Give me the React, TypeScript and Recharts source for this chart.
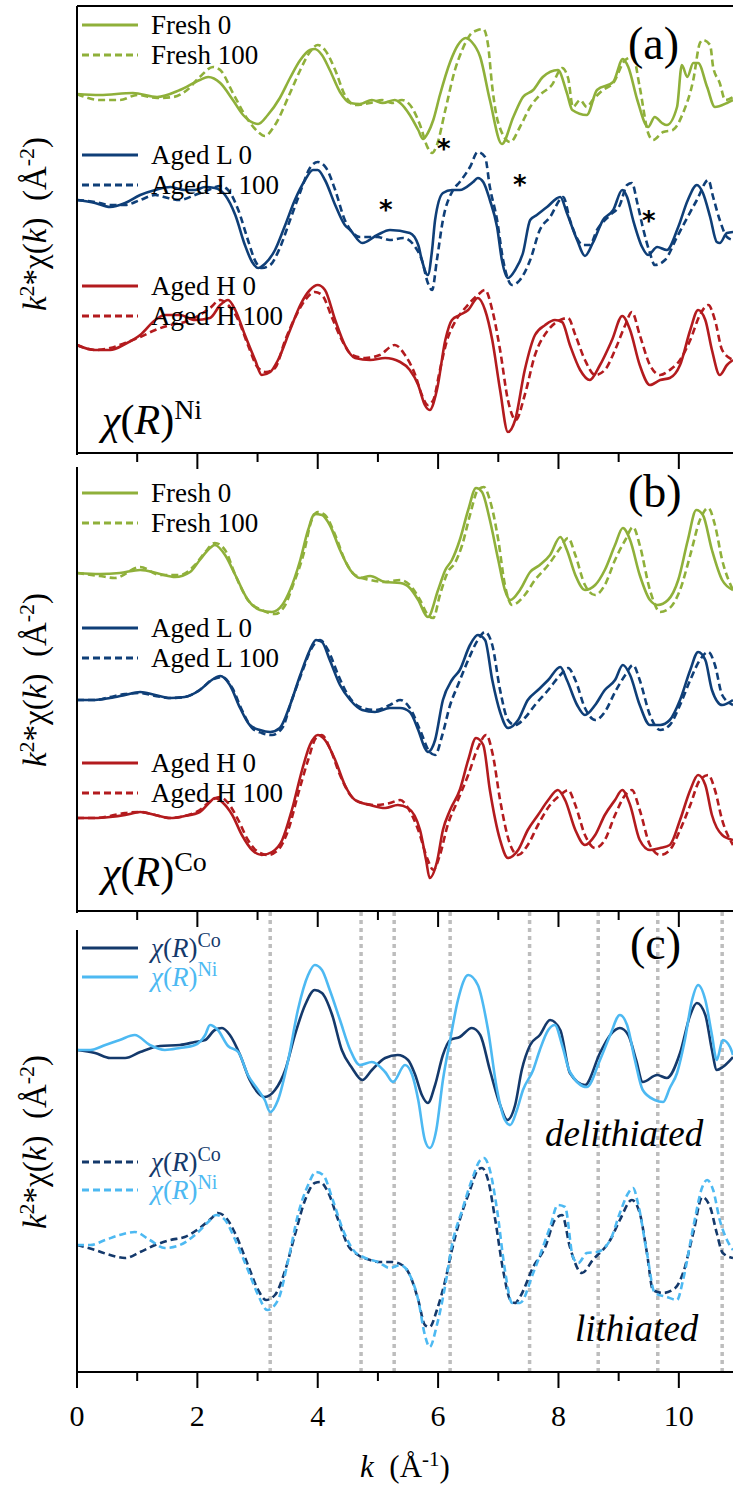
import React from 'react';
import { LineChart, Line, XAxis, YAxis, ReferenceLine } from 'recharts';

type P = [number, number];

// ---------- axis / guide data ----------
const K_MAX = 10.9;
const K_TICKS = [0, 1, 2, 3, 4, 5, 6, 7, 8, 9, 10];
const K_LABELS = [0, 2, 4, 6, 8, 10];
const GUIDE_K = [3.21, 4.72, 5.27, 6.2, 7.52, 8.66, 9.65, 10.72];

// ---------- panel (a): chi(R)^Ni, [k, k2chi] ----------
const A_FRESH_0: P[] = [[0,0],[0.38,-0.1],[0.93,0.1],[1.33,-0.3],[1.71,0.4],[2.04,1.4],[2.18,1.7],[2.38,1.1],[2.59,-0.6],[2.76,-2.1],[2.87,-2.7],[3.01,-3.0],[3.17,-2.1],[3.37,-0.4],[3.54,1.6],[3.71,3.4],[3.87,4.4],[3.95,4.5],[4.07,3.9],[4.2,2.4],[4.37,0.2],[4.54,-0.9],[4.7,-1.0],[4.9,-0.6],[5.08,-0.9],[5.28,-0.6],[5.37,-0.9],[5.53,-2.1],[5.67,-3.6],[5.75,-4.5],[5.83,-3.9],[5.92,-2.6],[6.03,-0.1],[6.2,3.2],[6.33,4.9],[6.46,5.6],[6.56,5.2],[6.7,3.7],[6.86,-0.6],[7.06,-5.0],[7.25,-2.3],[7.41,-0.3],[7.58,0.4],[7.74,1.7],[7.99,2.4],[8.14,0.1],[8.23,-1.6],[8.47,-2.1],[8.64,0.4],[8.91,1.2],[9.07,3.5],[9.16,2.7],[9.31,-0.6],[9.49,-3.3],[9.6,-2.3],[9.72,-2.9],[9.8,-3.1],[9.97,-1.3],[10.05,2.9],[10.14,1.7],[10.24,3.1],[10.32,3.1],[10.47,0.7],[10.6,-1.3],[10.8,-0.9],[10.9,-0.6]];
const A_FRESH_100: P[] = [[0,0],[0.38,-0.6],[0.71,-0.6],[1.0,-0.1],[1.33,-0.4],[1.6,-0.3],[1.83,0.4],[2.04,1.7],[2.26,2.7],[2.38,2.4],[2.59,0.1],[2.82,-2.4],[3.01,-3.8],[3.12,-4.2],[3.29,-3.1],[3.54,0.1],[3.71,2.4],[3.87,4.2],[4.0,4.9],[4.12,4.4],[4.29,2.4],[4.45,-0.1],[4.62,-1.1],[4.87,-0.9],[5.07,-0.6],[5.23,-0.9],[5.4,-0.6],[5.57,-1.4],[5.7,-3.1],[5.83,-5.4],[5.9,-5.9],[5.98,-5.1],[6.12,-1.6],[6.28,2.4],[6.4,4.4],[6.53,5.9],[6.66,6.4],[6.75,6.5],[6.83,4.9],[6.9,0.7],[7.0,-2.9],[7.2,-4.8],[7.36,-3.3],[7.53,-1.3],[7.69,-0.1],[7.89,0.9],[8.06,2.6],[8.16,1.6],[8.24,-1.3],[8.36,-0.6],[8.47,-1.3],[8.57,-0.6],[8.74,0.4],[8.91,1.1],[9.11,3.4],[9.24,3.7],[9.35,0.7],[9.49,-3.9],[9.57,-4.6],[9.74,-3.8],[9.9,-3.6],[10.07,-1.9],[10.24,1.4],[10.35,5.1],[10.4,5.4],[10.52,4.9],[10.57,2.7],[10.68,1.1],[10.77,-0.6],[10.9,-0.3]];
const A_AGEDL_0: P[] = [[0,0],[0.3,-0.3],[0.55,-0.7],[0.8,-0.3],[1.05,0.5],[1.3,1.0],[1.55,1.3],[1.79,1.0],[1.96,1.0],[2.13,1.3],[2.29,1.2],[2.46,0.5],[2.63,-1.5],[2.79,-4.5],[2.91,-6.2],[3.01,-6.8],[3.12,-6.4],[3.29,-5.0],[3.46,-2.5],[3.62,0],[3.79,2.0],[3.92,3.0],[4.0,3.0],[4.12,2.0],[4.29,-0.5],[4.45,-2.5],[4.54,-3.0],[4.74,-4.3],[4.99,-3.5],[5.2,-3.0],[5.53,-3.3],[5.67,-4.5],[5.73,-6.0],[5.83,-7.5],[5.9,-5.0],[5.95,-2.0],[6.08,0.7],[6.23,1.0],[6.36,1.0],[6.58,1.8],[6.66,2.2],[6.75,1.8],[6.86,0],[6.98,-2.7],[7.06,-6.0],[7.16,-7.8],[7.28,-7.0],[7.41,-5.3],[7.53,-2.0],[7.64,-1.5],[7.81,-0.7],[8.03,0.3],[8.14,-1.3],[8.31,-4.0],[8.44,-5.6],[8.57,-4.3],[8.74,-2.0],[8.91,-1.0],[9.06,1.0],[9.14,0.3],[9.24,-2.0],[9.39,-4.7],[9.49,-5.5],[9.64,-4.7],[9.8,-5.0],[9.99,-2.7],[10.15,0],[10.3,1.5],[10.4,0.7],[10.52,-1.7],[10.63,-4.2],[10.68,-4.3],[10.8,-3.3],[10.9,-3.2]];
const A_AGEDL_100: P[] = [[0,0],[0.3,-0.2],[0.55,-0.5],[0.8,-0.5],[1.05,0],[1.3,0.5],[1.51,0.2],[1.71,0],[1.96,0.5],[2.18,1.0],[2.38,1.4],[2.51,1.0],[2.68,-1.0],[2.84,-4.0],[2.97,-6.2],[3.07,-6.8],[3.21,-6.5],[3.37,-4.8],[3.54,-2.0],[3.71,0.8],[3.87,3.2],[4.0,3.8],[4.14,3.2],[4.29,1.0],[4.45,-2.0],[4.57,-3.2],[4.7,-3.7],[4.99,-3.7],[5.2,-4.0],[5.42,-3.8],[5.62,-4.7],[5.73,-6.0],[5.83,-8.3],[5.9,-9.0],[5.98,-6.0],[6.08,-2.0],[6.25,1.0],[6.36,1.8],[6.53,3.3],[6.66,4.8],[6.78,4.3],[6.86,1.3],[6.98,-2.0],[7.08,-6.0],[7.23,-8.5],[7.36,-8.0],[7.53,-6.0],[7.69,-3.0],[7.86,-1.7],[8.08,0.3],[8.19,-2.0],[8.41,-4.5],[8.52,-4.5],[8.64,-3.0],[8.86,-1.5],[9.02,-0.5],[9.14,1.5],[9.22,1.7],[9.31,-0.3],[9.4,-2.7],[9.52,-5.3],[9.6,-6.5],[9.77,-6.0],[9.97,-3.7],[10.3,0],[10.49,2.0],[10.57,0.3],[10.68,-2.0],[10.8,-3.7],[10.9,-4.0]];
const A_AGEDH_0: P[] = [[0,0],[0.3,-0.5],[0.55,-0.5],[0.8,0.1],[1.05,1.0],[1.3,2.5],[1.46,3.0],[1.71,3.0],[1.96,2.5],[2.21,2.7],[2.38,4.0],[2.51,4.5],[2.63,3.5],[2.79,1.0],[2.96,-1.5],[3.07,-3.0],[3.21,-2.7],[3.34,-1.5],[3.54,1.5],[3.71,4.0],[3.87,5.5],[4.0,6.0],[4.12,5.5],[4.29,2.5],[4.45,0],[4.62,-1.3],[4.87,-1.5],[5.12,-1.3],[5.37,-1.7],[5.53,-2.5],[5.67,-4.0],[5.78,-6.0],[5.86,-6.5],[5.98,-4.5],[6.12,0.5],[6.23,2.5],[6.36,3.0],[6.5,3.5],[6.66,4.7],[6.78,3.5],[6.9,0.5],[7.03,-4.5],[7.16,-8.7],[7.28,-7.5],[7.44,-2.5],[7.61,1.0],[7.78,2.0],[7.94,2.5],[8.06,2.3],[8.19,0],[8.36,-2.5],[8.52,-3.5],[8.69,-2.0],[8.89,0.5],[9.06,2.9],[9.19,1.5],[9.35,-2.0],[9.52,-4.0],[9.69,-3.5],[9.85,-3.3],[10.02,-2.0],[10.19,1.5],[10.32,3.5],[10.44,2.5],[10.55,-0.5],[10.68,-3.0],[10.8,-2.0],[10.9,-1.5]];
const A_AGEDH_100: P[] = [[0,0],[0.3,-0.5],[0.55,-0.3],[0.8,0.2],[1.05,0.8],[1.3,1.5],[1.55,2.0],[1.79,2.3],[2.04,3.0],[2.21,3.7],[2.38,4.5],[2.51,4.0],[2.68,2.5],[2.84,0],[3.01,-2.3],[3.14,-2.7],[3.29,-2.3],[3.46,0.5],[3.62,2.7],[3.79,4.5],[3.95,5.3],[4.07,5.0],[4.24,2.7],[4.4,0.5],[4.57,-1.0],[4.79,-1.3],[5.03,-1.0],[5.28,0],[5.45,-1.0],[5.62,-3.0],[5.73,-5.0],[5.83,-6.0],[5.92,-5.5],[6.03,-2.5],[6.15,0.5],[6.28,2.3],[6.45,3.7],[6.66,5.0],[6.78,5.5],[6.9,3.5],[7.03,-0.5],[7.16,-5.5],[7.29,-7.5],[7.44,-5.0],[7.61,-1.0],[7.83,1.5],[8.03,2.5],[8.16,2.7],[8.28,1.0],[8.44,-1.5],[8.61,-3.0],[8.77,-2.5],[8.94,-0.5],[9.11,2.0],[9.22,3.3],[9.35,1.0],[9.52,-2.0],[9.69,-3.0],[9.85,-2.5],[10.02,-1.5],[10.19,0.5],[10.35,3.0],[10.49,4.0],[10.6,2.5],[10.72,-0.5],[10.9,-1.5]];

// ---------- panel (b): chi(R)^Co ----------
const B_FRESH_0: P[] = [[0,0],[0.38,-0.1],[0.71,0],[1.05,0.3],[1.38,-0.1],[1.63,-0.4],[1.88,0.1],[2.04,1.3],[2.21,2.5],[2.29,2.8],[2.46,1.8],[2.63,-0.2],[2.84,-2.7],[3.04,-3.7],[3.24,-3.9],[3.41,-3.2],[3.54,-1.7],[3.71,1.3],[3.84,4.3],[3.95,5.9],[4.07,5.8],[4.2,4.8],[4.37,2.3],[4.54,0.3],[4.7,-0.5],[4.87,-0.3],[5.12,-0.9],[5.37,-1.0],[5.53,-1.5],[5.67,-2.7],[5.83,-4.4],[6.0,-1.7],[6.12,0.3],[6.23,1.3],[6.36,3.3],[6.5,6.3],[6.63,8.5],[6.73,8.1],[6.86,5.3],[7.0,1.3],[7.11,-1.7],[7.2,-2.7],[7.36,-1.7],[7.53,0.1],[7.69,0.8],[7.86,1.8],[8.03,3.6],[8.14,2.3],[8.28,-0.2],[8.44,-1.7],[8.61,-1.2],[8.77,0.3],[8.94,2.8],[9.07,4.5],[9.19,3.3],[9.35,-0.2],[9.52,-2.7],[9.65,-3.2],[9.82,-2.7],[9.99,-0.7],[10.15,3.3],[10.29,6.3],[10.4,5.8],[10.55,2.3],[10.72,-0.7],[10.9,-1.7]];
const B_FRESH_100: P[] = [[0,0],[0.38,-0.3],[0.63,-0.5],[1.05,0.6],[1.38,-0.2],[1.71,-0.2],[1.96,0.8],[2.13,2.1],[2.29,3.0],[2.46,2.3],[2.63,-0.2],[2.84,-2.7],[3.07,-3.7],[3.29,-4.1],[3.46,-3.2],[3.59,-1.2],[3.76,1.8],[3.9,5.3],[4.0,6.1],[4.12,5.8],[4.29,3.8],[4.45,1.3],[4.62,-0.2],[4.87,-0.7],[5.12,-0.9],[5.37,-0.7],[5.53,-1.2],[5.7,-2.7],[5.83,-4.2],[5.92,-4.5],[6.03,-2.2],[6.16,0.1],[6.28,1.0],[6.4,2.8],[6.53,5.8],[6.66,8.3],[6.76,8.6],[6.86,7.3],[7.0,3.3],[7.11,-1.2],[7.23,-3.2],[7.44,-2.2],[7.61,-0.7],[7.83,0.8],[8.03,2.5],[8.16,3.5],[8.28,1.8],[8.44,-1.2],[8.61,-2.2],[8.77,-1.2],[8.94,1.3],[9.11,3.3],[9.24,4.6],[9.35,2.8],[9.52,-1.7],[9.69,-3.9],[9.85,-3.5],[10.02,-1.7],[10.19,1.8],[10.35,5.3],[10.49,6.5],[10.6,4.8],[10.72,1.3],[10.9,-1.7]];
const B_AGEDL_0: P[] = [[0,0],[0.3,0],[0.55,0.2],[0.8,0.5],[1.05,0.8],[1.3,0.5],[1.55,0.2],[1.79,0.3],[2.04,1.0],[2.24,2.0],[2.38,2.4],[2.54,1.5],[2.71,-0.8],[2.87,-2.5],[3.04,-3.0],[3.21,-3.2],[3.37,-2.8],[3.54,-0.5],[3.71,2.5],[3.87,5.0],[3.97,6.0],[4.07,5.8],[4.2,4.0],[4.37,1.5],[4.54,0],[4.74,-1.0],[4.95,-1.2],[5.2,-0.8],[5.37,-0.8],[5.53,-1.2],[5.67,-3.0],[5.78,-4.8],[5.83,-5.2],[5.95,-4.0],[6.08,0],[6.23,2.0],[6.36,3.0],[6.53,5.5],[6.66,6.5],[6.78,6.0],[6.9,2.0],[7.03,-1.2],[7.16,-2.8],[7.33,-2.0],[7.49,0],[7.66,1.0],[7.83,2.0],[8.03,3.3],[8.14,2.0],[8.31,-0.5],[8.44,-1.5],[8.61,-0.5],[8.77,1.0],[8.94,2.0],[9.07,3.5],[9.19,2.5],[9.35,-0.5],[9.52,-2.5],[9.69,-2.5],[9.85,-2.0],[10.02,0],[10.19,3.0],[10.32,4.8],[10.44,4.0],[10.55,1.0],[10.72,-0.5],[10.9,0]];
const B_AGEDL_100: P[] = [[0,0],[0.3,0],[0.55,0.3],[0.8,0.6],[1.05,0.7],[1.3,0.4],[1.55,0.2],[1.79,0.3],[2.04,1.0],[2.24,2.0],[2.41,2.3],[2.58,1.2],[2.74,-1.0],[2.91,-2.8],[3.07,-3.3],[3.24,-3.5],[3.41,-2.8],[3.57,0],[3.74,2.8],[3.9,5.2],[4.04,6.0],[4.17,5.0],[4.34,2.5],[4.5,0.5],[4.7,-0.7],[4.95,-1.0],[5.2,-0.5],[5.37,0],[5.53,-0.8],[5.7,-3.0],[5.86,-5.2],[5.95,-5.5],[6.07,-3.5],[6.2,-0.5],[6.33,1.5],[6.5,4.0],[6.66,6.0],[6.78,6.8],[6.9,5.5],[7.03,1.0],[7.16,-2.0],[7.28,-2.5],[7.44,-1.8],[7.61,-0.5],[7.83,1.0],[8.03,2.5],[8.16,3.2],[8.28,2.0],[8.44,-0.8],[8.61,-2.0],[8.77,-1.2],[8.94,0.8],[9.11,2.5],[9.24,3.5],[9.35,2.0],[9.52,-1.5],[9.69,-3.0],[9.85,-2.5],[10.02,-0.5],[10.19,2.0],[10.35,4.0],[10.49,4.8],[10.6,3.5],[10.72,0.5],[10.9,-0.5]];
const B_AGEDH_0: P[] = [[0,0],[0.3,0],[0.55,0.1],[0.8,0.3],[1.05,0.6],[1.3,0.3],[1.55,0],[1.79,0.2],[2.04,0.6],[2.21,1.6],[2.29,2.0],[2.41,1.6],[2.58,0.3],[2.74,-1.7],[2.91,-3.2],[3.07,-3.7],[3.24,-3.4],[3.41,-2.2],[3.57,0.8],[3.74,4.8],[3.87,7.3],[4.0,8.3],[4.12,7.8],[4.29,5.8],[4.45,3.3],[4.62,1.8],[4.87,1.3],[5.12,1.0],[5.33,1.3],[5.5,1.0],[5.7,-1.2],[5.8,-4.2],[5.86,-6.0],[5.98,-4.4],[6.08,-1.2],[6.2,0.8],[6.36,2.8],[6.5,5.8],[6.63,8.0],[6.75,7.3],[6.86,2.8],[7.03,-2.2],[7.16,-4.0],[7.33,-3.2],[7.49,-1.2],[7.66,0.3],[7.83,1.8],[7.99,2.8],[8.11,1.8],[8.28,-1.2],[8.44,-2.7],[8.61,-1.7],[8.77,0.3],[8.94,1.8],[9.06,2.8],[9.19,1.3],[9.35,-2.2],[9.52,-3.2],[9.69,-3.0],[9.85,-2.7],[10.02,-0.2],[10.19,2.8],[10.32,4.3],[10.44,3.3],[10.55,0.3],[10.72,-1.7],[10.9,-2.2]];
const B_AGEDH_100: P[] = [[0,0],[0.3,0],[0.55,0.2],[0.8,0.5],[1.05,0.6],[1.3,0.3],[1.55,0],[1.79,0.2],[2.04,0.8],[2.24,1.8],[2.38,2.1],[2.51,1.5],[2.68,-0.2],[2.84,-2.2],[3.01,-3.4],[3.17,-3.7],[3.34,-3.2],[3.51,-1.2],[3.67,2.3],[3.84,5.8],[3.97,8.0],[4.07,8.3],[4.2,7.0],[4.37,4.3],[4.54,2.3],[4.74,1.5],[4.95,1.3],[5.2,1.5],[5.37,1.8],[5.5,1.0],[5.67,-1.2],[5.83,-4.2],[5.92,-5.2],[6.03,-3.7],[6.16,-0.7],[6.33,1.8],[6.5,4.3],[6.66,7.0],[6.8,8.3],[6.91,6.3],[7.03,1.8],[7.2,-2.7],[7.33,-3.7],[7.49,-2.7],[7.66,-0.7],[7.86,1.3],[8.03,2.3],[8.16,2.8],[8.28,1.3],[8.44,-1.7],[8.61,-3.0],[8.77,-2.2],[8.94,0.3],[9.11,2.3],[9.22,2.8],[9.35,0.8],[9.52,-2.7],[9.69,-3.7],[9.85,-3.2],[10.02,-1.2],[10.19,1.3],[10.35,3.8],[10.49,4.3],[10.6,2.8],[10.72,-0.2],[10.9,-2.7]];

// ---------- panel (c): Co vs Ni ----------
const C_CO_DELI: P[] = [[0,0],[0.3,-0.3],[0.55,-0.8],[0.8,-0.8],[1.05,-0.2],[1.38,0.4],[1.71,0.5],[1.96,0.8],[2.13,1.0],[2.29,2.0],[2.41,2.2],[2.54,1.5],[2.71,-0.5],[2.87,-3.0],[3.01,-4.3],[3.12,-4.7],[3.29,-4.0],[3.46,-2.0],[3.62,1.5],[3.79,4.5],[3.95,6.0],[4.07,5.7],[4.24,3.5],[4.4,0],[4.57,-1.8],[4.74,-3.0],[4.9,-2.0],[5.12,-0.8],[5.33,-0.5],[5.5,-1.0],[5.62,-2.5],[5.73,-4.5],[5.83,-5.3],[5.95,-3.5],[6.08,-0.5],[6.2,1.0],[6.36,1.3],[6.56,2.2],[6.7,1.5],[6.86,-2.0],[7.03,-5.5],[7.15,-7.0],[7.28,-5.5],[7.39,-2.0],[7.53,0.5],[7.69,1.5],[7.86,3.0],[8.03,2.0],[8.19,-2.3],[8.44,-3.5],[8.69,-0.3],[8.86,1.5],[9.02,2.2],[9.16,1.5],[9.29,-1.0],[9.4,-3.2],[9.64,-2.5],[9.8,-2.8],[10.02,-0.3],[10.19,3.5],[10.3,4.7],[10.44,3.5],[10.55,0],[10.63,-2.0],[10.73,-1.7],[10.9,-0.7]];
const C_NI_DELI: P[] = [[0,0],[0.22,0],[0.47,0.5],[0.71,1.0],[0.96,1.5],[1.21,0.5],[1.46,0],[1.71,0.2],[1.96,0.5],[2.13,1.5],[2.21,2.5],[2.34,2.0],[2.51,0.4],[2.68,-0.2],[2.84,-2.5],[3.01,-4.0],[3.12,-5.0],[3.21,-6.2],[3.34,-5.0],[3.51,-1.0],[3.67,4.0],[3.84,7.5],[3.95,8.5],[4.07,8.0],[4.2,6.0],[4.37,3.0],[4.54,0],[4.7,-1.5],[4.9,-1.2],[5.12,-2.2],[5.25,-3.2],[5.45,-1.5],[5.57,-2.5],[5.67,-5.0],[5.78,-9.0],[5.86,-9.8],[5.97,-8.0],[6.08,-3.0],[6.2,1.0],[6.33,5.0],[6.5,7.5],[6.66,6.5],[6.83,2.0],[6.98,-4.0],[7.11,-7.0],[7.2,-7.5],[7.31,-6.0],[7.41,-4.0],[7.58,-2.0],[7.69,0],[7.83,2.0],[7.94,2.5],[8.06,0.5],[8.19,-2.2],[8.47,-3.7],[8.69,-1.0],[8.86,1.5],[9.02,3.5],[9.14,2.5],[9.27,-1.0],[9.4,-4.0],[9.6,-5.0],[9.74,-5.2],[9.85,-3.8],[9.97,-2.3],[10.1,1.0],[10.22,5.0],[10.32,6.5],[10.44,5.0],[10.55,1.5],[10.63,-1.0],[10.73,1.0],[10.85,0.3],[10.9,-0.5]];
const C_CO_LI: P[] = [[0,0],[0.3,-0.5],[0.55,-1.0],[0.8,-1.3],[1.05,-0.7],[1.3,0],[1.55,0.5],[1.79,0.8],[2.04,1.7],[2.24,2.7],[2.34,3.2],[2.48,2.7],[2.64,1.0],[2.84,-2.0],[3.01,-4.5],[3.14,-5.5],[3.29,-5.0],[3.46,-2.5],[3.62,1.0],[3.79,4.5],[3.95,6.2],[4.04,6.3],[4.17,5.3],[4.34,2.5],[4.5,0],[4.67,-1.0],[4.87,-1.5],[5.03,-1.7],[5.23,-1.7],[5.4,-2.0],[5.53,-3.0],[5.67,-5.5],[5.78,-8.0],[5.86,-8.2],[5.98,-6.5],[6.12,-3.5],[6.23,-0.5],[6.36,2.5],[6.53,5.5],[6.66,7.5],[6.73,7.7],[6.83,6.5],[6.95,2.5],[7.08,-2.5],[7.2,-5.5],[7.28,-5.8],[7.36,-5.2],[7.58,-2.2],[7.78,-0.2],[7.94,2.5],[8.06,3.0],[8.19,-0.2],[8.39,-2.8],[8.57,-1.5],[8.86,0.5],[9.02,2.5],[9.22,4.5],[9.35,3.2],[9.47,-0.8],[9.57,-4.5],[9.74,-4.8],[9.94,-4.3],[10.07,-2.8],[10.24,1.2],[10.39,4.8],[10.52,3.8],[10.63,1.2],[10.73,-0.8],[10.9,-1.3]];
const C_NI_LI: P[] = [[0,0],[0.22,0],[0.47,0.5],[0.71,1.0],[0.96,1.3],[1.21,0.5],[1.46,-0.3],[1.71,0],[1.96,1.0],[2.18,2.3],[2.31,3.0],[2.46,2.5],[2.63,0.5],[2.84,-2.5],[3.01,-5.0],[3.16,-6.5],[3.34,-5.5],[3.51,-1.5],[3.67,3.0],[3.84,6.0],[3.97,7.3],[4.09,7.0],[4.25,4.5],[4.42,1.5],[4.59,-0.5],[4.79,-1.3],[5.0,-1.7],[5.2,-2.3],[5.37,-2.0],[5.53,-3.0],[5.67,-5.5],[5.78,-9.0],[5.86,-10.2],[5.98,-8.0],[6.12,-4.0],[6.23,0],[6.4,3.5],[6.56,6.5],[6.7,8.5],[6.76,8.7],[6.86,7.5],[6.98,3.5],[7.11,-2.5],[7.23,-5.8],[7.36,-5.8],[7.58,-2.8],[7.86,1.8],[7.99,4.0],[8.11,3.8],[8.24,-1.2],[8.33,-1.8],[8.47,-0.8],[8.64,-0.7],[8.86,0.5],[9.02,3.2],[9.16,5.2],[9.24,5.7],[9.32,4.2],[9.47,-0.8],[9.6,-4.8],[9.8,-5.2],[9.97,-5.5],[10.07,-3.5],[10.24,1.8],[10.39,5.8],[10.47,6.5],[10.57,5.5],[10.68,2.5],[10.8,0.5],[10.9,-0.5]];

// vertical offsets of the stacked curves
const A_OFFSETS = { fresh: 35.9, agedL: 25.3, agedH: 10.8 };
const B_OFFSETS = { fresh: 33.8, agedL: 21.1, agedH: 9.3 };
const C_OFFSETS = { deli: 32.2, li: 12.7 };
const A_YMAX = 44.7;
const B_YMAX = 45.8;
const C_YMAX = 46.1;

const GREEN = '#8FB03A';
const NAVY = '#0F3F78';
const RED = '#B31B1E';
const DARK = '#14396B';
const LIGHT = '#4DB9F2';
const SERIF = "'Liberation Serif', 'DejaVu Serif', serif";

const rows = (pts: P[], off: number) => pts.map(([k, v]) => ({ k, y: +(v + off).toFixed(2) }));

type S = { pts: P[]; off: number; color: string; dashed?: boolean };

const AxisTick = (props: any) => {
  const { x, y, payload, showLabels, skipZero } = props;
  const v = payload.value;
  if (skipZero && v === 0) return <g />;
  const major = v % 2 === 0;
  return (
    <g>
      <line x1={x} x2={x} y1={y} y2={y + (major ? 16 : 9)} stroke="#000" strokeWidth={2} />
      {showLabels && major && K_LABELS.includes(v) ? (
        <text x={x} y={y + 54} textAnchor="middle" style={{ fontFamily: SERIF, fontSize: 30 }} fill="#000">{v}</text>
      ) : null}
    </g>
  );
};

function Panel(props: { top: number; topBorder?: boolean; plotH: number; axisH: number; yMax: number; series: S[]; labels?: boolean; guides?: boolean }) {
  const { top, topBorder, plotH, axisH, yMax, series, labels, guides } = props;
  const topH = topBorder ? 6 : 0;
  const h = topH + plotH + axisH;
  return (
    <div style={{ position: 'absolute', left: 0, top: top - topH, width: 733, height: h }}>
      <LineChart width={733} height={h} margin={{ top: 0, right: 0, bottom: 0, left: 0 }}>
        {topBorder ? (
          <XAxis xAxisId="top" orientation="top" type="number" dataKey="k" domain={[0, K_MAX]} height={topH} tick={false} tickLine={false} axisLine={{ stroke: '#000', strokeWidth: 2 }} allowDataOverflow />
        ) : null}
        <XAxis
          type="number"
          dataKey="k"
          domain={[0, K_MAX]}
          ticks={K_TICKS}
          interval={0}
          height={axisH}
          tickSize={0}
          tickMargin={0}
          tickLine={false}
          axisLine={{ stroke: '#000', strokeWidth: 2 }}
          tick={(p: any) => <AxisTick {...p} showLabels={labels} skipZero={!labels} />}
          allowDataOverflow
        />
        <YAxis type="number" domain={[0, yMax]} width={77} tick={false} tickLine={false} axisLine={{ stroke: '#000', strokeWidth: 2 }} allowDataOverflow />
        {guides
          ? GUIDE_K.map((g) => (
              <ReferenceLine key={g} x={g} stroke="#BDBDBD" strokeWidth={3.5} strokeDasharray="4 4" />
            ))
          : null}
        {series.map((s, i) => (
          <Line
            key={i}
            data={rows(s.pts, s.off)}
            dataKey="y"
            type="monotone"
            stroke={s.color}
            strokeWidth={2.6}
            strokeDasharray={s.dashed ? '7 4' : undefined}
            dot={false}
            activeDot={false}
            isAnimationActive={false}
          />
        ))}
      </LineChart>
    </div>
  );
}

const Txt = (p: { x: number; y: number; size: number; lh?: number; color?: string; italic?: boolean; anchor?: 'left' | 'center'; children: React.ReactNode }) => {
  const lh = p.lh ?? p.size;
  return (
    <div
      style={{
        position: 'absolute',
        left: p.x,
        top: p.y - lh / 2,
        fontFamily: SERIF,
        fontSize: p.size,
        lineHeight: `${lh}px`,
        color: p.color || '#000',
        fontStyle: p.italic ? 'italic' : 'normal',
        whiteSpace: 'nowrap',
        transform: p.anchor === 'center' ? 'translateX(-50%)' : undefined,
      }}
    >
      {p.children}
    </div>
  );
};

const Sup = (p: { children: React.ReactNode; size: number; lift: number }) => (
  <span style={{ fontSize: p.size, position: 'relative', top: -p.lift, fontStyle: 'normal', lineHeight: 0 }}>{p.children}</span>
);

const LegendItem = (p: { y: number; color: string; dashed?: boolean; children: React.ReactNode; textColor?: string }) => (
  <>
    <svg style={{ position: 'absolute', left: 82, top: p.y - 3 }} width={56} height={6}>
      <line x1={0} x2={56} y1={3} y2={3} stroke={p.color} strokeWidth={3} strokeDasharray={p.dashed ? '7 4' : undefined} />
    </svg>
    <Txt x={151} y={p.y} size={27} lh={20} color={p.textColor}>{p.children}</Txt>
  </>
);

const ChiR = (p: { el: string; supSize: number; lift: number }) => (
  <span>
    <i>χ</i>(<i>R</i>)<Sup size={p.supSize} lift={p.lift}>{p.el}</Sup>
  </span>
);

const YTitle = (p: { cy: number }) => (
  <div
    style={{
      position: 'absolute',
      left: 35,
      top: p.cy,
      transform: 'translate(-50%, -50%) rotate(-90deg)',
      fontFamily: SERIF,
      fontSize: 33,
      whiteSpace: 'nowrap',
      lineHeight: '33px',
    }}
  >
    <i>k</i><Sup size={22} lift={12}>2</Sup>*χ(<i>k</i>)&nbsp;&nbsp;(Å<Sup size={22} lift={12}>-2</Sup>)
  </div>
);

const Star = (p: { x: number; y: number }) => (
  <div style={{ position: 'absolute', left: p.x - 10, top: p.y - 9, fontFamily: "'DejaVu Sans', sans-serif", fontSize: 26, lineHeight: '26px', fontWeight: 'bold' }}>*</div>
);

export default function App() {
  const seriesA: S[] = [
    { pts: A_FRESH_0, off: A_OFFSETS.fresh, color: GREEN },
    { pts: A_FRESH_100, off: A_OFFSETS.fresh, color: GREEN, dashed: true },
    { pts: A_AGEDL_0, off: A_OFFSETS.agedL, color: NAVY },
    { pts: A_AGEDL_100, off: A_OFFSETS.agedL, color: NAVY, dashed: true },
    { pts: A_AGEDH_0, off: A_OFFSETS.agedH, color: RED },
    { pts: A_AGEDH_100, off: A_OFFSETS.agedH, color: RED, dashed: true },
  ];
  const seriesB: S[] = [
    { pts: B_FRESH_0, off: B_OFFSETS.fresh, color: GREEN },
    { pts: B_FRESH_100, off: B_OFFSETS.fresh, color: GREEN, dashed: true },
    { pts: B_AGEDL_0, off: B_OFFSETS.agedL, color: NAVY },
    { pts: B_AGEDL_100, off: B_OFFSETS.agedL, color: NAVY, dashed: true },
    { pts: B_AGEDH_0, off: B_OFFSETS.agedH, color: RED },
    { pts: B_AGEDH_100, off: B_OFFSETS.agedH, color: RED, dashed: true },
  ];
  const seriesC: S[] = [
    { pts: C_CO_DELI, off: C_OFFSETS.deli, color: DARK },
    { pts: C_NI_DELI, off: C_OFFSETS.deli, color: LIGHT },
    { pts: C_CO_LI, off: C_OFFSETS.li, color: DARK, dashed: true },
    { pts: C_NI_LI, off: C_OFFSETS.li, color: LIGHT, dashed: true },
  ];
  return (
    <div style={{ position: 'absolute', left: 0, top: 0, width: 733, height: 1495, background: '#fff', overflow: 'hidden', fontFamily: SERIF }}>
      <Panel top={6} topBorder plotH={447} axisH={17} yMax={A_YMAX} series={seriesA} />
      <Panel top={453} plotH={458} axisH={17} yMax={B_YMAX} series={seriesB} />
      <Panel top={911} plotH={461} axisH={70} yMax={C_YMAX} series={seriesC} labels guides />

      {/* gaps in the left frame between panels */}
      <div style={{ position: 'absolute', left: 74, top: 455, width: 6, height: 12, background: '#fff' }} />
      <div style={{ position: 'absolute', left: 74, top: 913, width: 6, height: 17, background: '#fff' }} />

      {/* panel (a) */}
      <LegendItem y={25} color={GREEN}>Fresh 0</LegendItem>
      <LegendItem y={55} color={GREEN} dashed>Fresh 100</LegendItem>
      <LegendItem y={155} color={NAVY}>Aged L 0</LegendItem>
      <LegendItem y={185} color={NAVY} dashed>Aged L 100</LegendItem>
      <LegendItem y={286} color={RED}>Aged H 0</LegendItem>
      <LegendItem y={316} color={RED} dashed>Aged H 100</LegendItem>
      <Txt x={628} y={44} size={46}>(a)</Txt>
      <Txt x={102} y={420} size={42}><ChiR el="Ni" supSize={28} lift={15} /></Txt>
      <Star x={389} y={206} />
      <Star x={447} y={145} />
      <Star x={523} y={181} />
      <Star x={652} y={217} />
      <YTitle cy={224} />

      {/* panel (b) */}
      <LegendItem y={493} color={GREEN}>Fresh 0</LegendItem>
      <LegendItem y={523} color={GREEN} dashed>Fresh 100</LegendItem>
      <LegendItem y={628} color={NAVY}>Aged L 0</LegendItem>
      <LegendItem y={658} color={NAVY} dashed>Aged L 100</LegendItem>
      <LegendItem y={763} color={RED}>Aged H 0</LegendItem>
      <LegendItem y={793} color={RED} dashed>Aged H 100</LegendItem>
      <Txt x={628} y={492} size={46}>(b)</Txt>
      <Txt x={102} y={872} size={42}><ChiR el="Co" supSize={28} lift={15} /></Txt>
      <YTitle cy={680} />

      {/* panel (c) */}
      <LegendItem y={948} color={DARK} textColor={DARK}><ChiR el="Co" supSize={20} lift={10} /></LegendItem>
      <LegendItem y={977} color={LIGHT} textColor={LIGHT}><ChiR el="Ni" supSize={20} lift={10} /></LegendItem>
      <LegendItem y={1162} color={DARK} dashed textColor={DARK}><ChiR el="Co" supSize={20} lift={10} /></LegendItem>
      <LegendItem y={1190} color={LIGHT} dashed textColor={LIGHT}><ChiR el="Ni" supSize={20} lift={10} /></LegendItem>
      <Txt x={630} y={944} size={46}>(c)</Txt>
      <Txt x={545} y={1133} size={37} italic>delithiated</Txt>
      <Txt x={575} y={1328} size={37} italic>lithiated</Txt>
      <YTitle cy={1142} />

      {/* x axis title */}
      <Txt x={405} y={1466} size={31} anchor="center"><i>k</i>&nbsp;&nbsp;(Å<Sup size={21} lift={11}>-1</Sup>)</Txt>
    </div>
  );
}
